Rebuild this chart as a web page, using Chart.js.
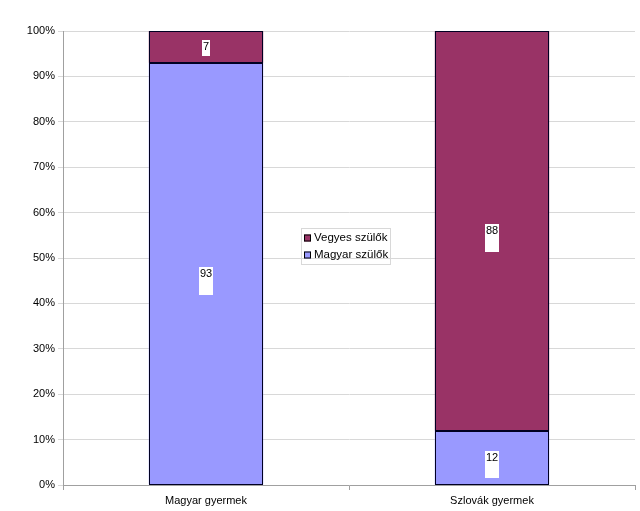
<!DOCTYPE html>
<html>
<head>
<meta charset="utf-8">
<script src="https://cdn.jsdelivr.net/npm/chart.js@4"></script>
<style>
  html, body { margin: 0; padding: 0; background: #fff; }
  #wrap { width: 640px; height: 511px; }
</style>
</head>
<body>
<div id="wrap"><canvas id="chart" width="640" height="511"></canvas></div>
<script>
const categories = ['Magyar gyermek', 'Szlovák gyermek'];
const magyarSzulok = [93, 12];
const vegyesSzulok = [7, 88];
const yTicks = [0, 10, 20, 30, 40, 50, 60, 70, 80, 90, 100];

const FONT = 'Liberation Sans, Arial, sans-serif';

// crisp outlines round each segment, then white label boxes
const labelPlugin = {
  id: 'segLabels',
  afterDatasetsDraw(chart) {
    const ctx = chart.ctx;
    ctx.save();
    ctx.strokeStyle = '#000022';
    ctx.lineWidth = 1;
    chart.data.datasets.forEach((ds, di) => {
      chart.getDatasetMeta(di).data.forEach(bar => {
        const x0 = Math.round(bar.x - bar.width / 2) + 0.5;
        const x1 = Math.round(bar.x + bar.width / 2) - 0.5;
        const y0 = Math.round(Math.min(bar.y, bar.base)) + 0.5;
        const y1 = Math.round(Math.max(bar.y, bar.base)) - 0.5;
        ctx.strokeRect(x0, y0, x1 - x0, y1 - y0);
      });
    });
    ctx.font = '11px ' + FONT;
    ctx.textAlign = 'center';
    ctx.textBaseline = 'middle';
    chart.data.datasets.forEach((ds, di) => {
      chart.getDatasetMeta(di).data.forEach((bar, i) => {
        const segH = Math.abs(bar.base - bar.y);
        const cy = (bar.y + bar.base) / 2;
        const txt = String(ds.data[i]);
        const w = ctx.measureText(txt).width + 2;
        const h = Math.min(28, segH / 2);
        ctx.fillStyle = '#fff';
        ctx.fillRect(Math.round(bar.x - w / 2), Math.round(cy - 7), Math.round(w), Math.round(h));
        ctx.fillStyle = '#000';
        ctx.fillText(txt, bar.x, cy);
      });
    });
    ctx.restore();
  }
};

const legendPlugin = {
  id: 'midLegend',
  afterDraw(chart) {
    const ctx = chart.ctx;
    ctx.save();
    const x = 301, y = 228, w = 89, h = 36;
    ctx.strokeStyle = '#d8d8d8';
    ctx.lineWidth = 1;
    ctx.strokeRect(x + 0.5, y + 0.5, w, h);
    ctx.font = '11.5px ' + FONT;
    ctx.textBaseline = 'middle';
    ctx.textAlign = 'left';
    const items = chart.data.datasets.slice().reverse();
    items.forEach((ds, k) => {
      const ly = y + 10 + k * 17;
      ctx.fillStyle = ds.backgroundColor;
      ctx.fillRect(x + 3, ly - 3.5, 7, 7);
      ctx.strokeStyle = '#000';
      ctx.strokeRect(x + 3.5, ly - 3, 6, 6);
      ctx.fillStyle = '#000';
      ctx.fillText(ds.label, x + 13, ly);
    });
    ctx.restore();
  }
};

new Chart(document.getElementById('chart'), {
  type: 'bar',
  data: {
    labels: categories,
    datasets: [
      { label: 'Magyar szülők', data: magyarSzulok, backgroundColor: '#9999ff', borderWidth: 0, categoryPercentage: 0.8, barPercentage: 0.5 },
      { label: 'Vegyes szülők', data: vegyesSzulok, backgroundColor: '#993366', borderWidth: 0, categoryPercentage: 0.8, barPercentage: 0.5 }
    ]
  },
  options: {
    responsive: false,
    animation: false,
    layout: { padding: { top: 31, right: 5, left: 0, bottom: 0 } },
    plugins: { legend: { display: false }, tooltip: { enabled: false } },
    scales: {
      x: {
        stacked: true,
        grid: { offset: true, drawOnChartArea: false, tickLength: 5, color: '#a0a0a0' },
        border: { color: '#a0a0a0' },
        ticks: { color: '#000', font: { family: FONT, size: 11 }, padding: 4 },
        afterFit(s) { s.height = 26; }
      },
      y: {
        stacked: true,
        min: 0,
        max: 100,
        afterBuildTicks(s) { s.ticks = yTicks.map(v => ({ value: v })); },
        grid: { color: '#d8d8d8', tickLength: 5 },
        border: { color: '#a0a0a0' },
        ticks: { color: '#000', font: { family: FONT, size: 11 }, padding: 3, callback: v => v + '%' },
        afterFit(s) { s.width = 63; }
      }
    }
  },
  plugins: [labelPlugin, legendPlugin]
});
</script>
</body>
</html>
